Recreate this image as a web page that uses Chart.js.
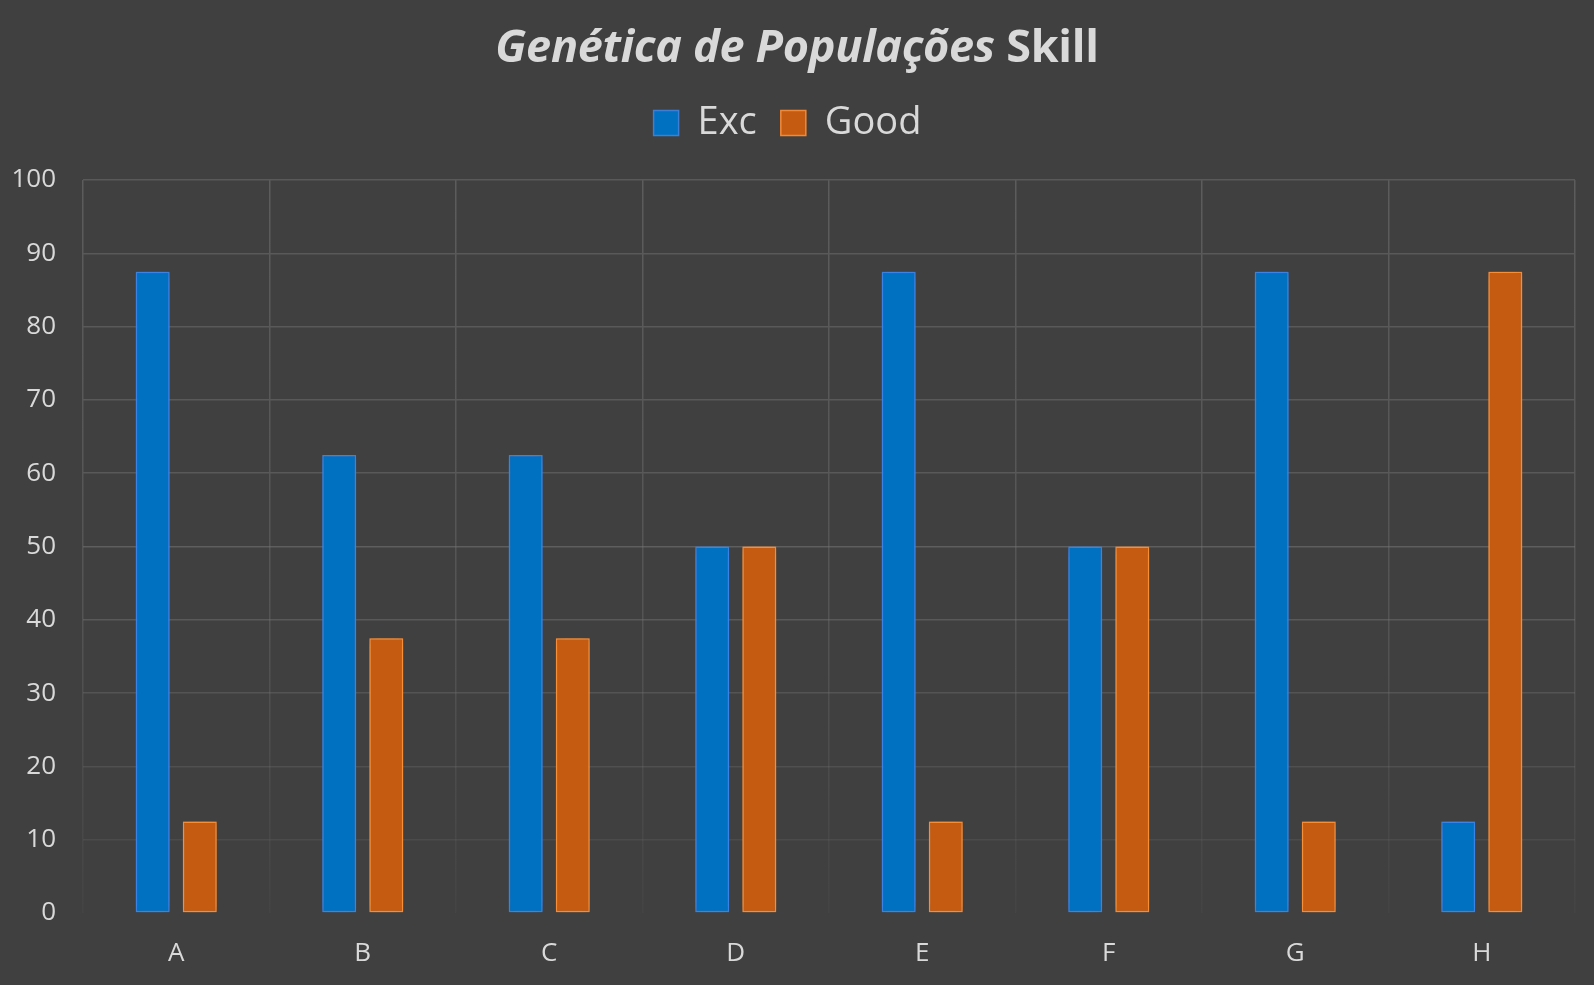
<!DOCTYPE html>
<html>
<head>
<meta charset="utf-8">
<script src="https://cdn.jsdelivr.net/npm/chart.js@4/dist/chart.umd.min.js"></script>
<style>
  html, body { margin: 0; padding: 0; background: #404040; }
  #wrap { position: relative; width: 1594px; height: 985px; }
  #title {
    position: absolute; left: 0; top: 14px; width: 1594px; text-align: center;
    font-family: "Open Sans", Lato, sans-serif; font-weight: bold; font-size: 45px;
    color: #d9d9d9; letter-spacing: -0.3px;
  }
  canvas { position: absolute; left: 0; top: 0; }
</style>
</head>
<body>
<div id="wrap">
  <canvas id="myChart" width="1594" height="985"></canvas>
  <div id="title"><i>Genética de Populações</i> Skill</div>
</div>
<script>
const labels = ['A', 'B', 'C', 'D', 'E', 'F', 'G', 'H'];
const excValues = [87.5, 62.5, 62.5, 50, 87.5, 50, 87.5, 12.5];
const goodValues = [12.5, 37.5, 37.5, 50, 12.5, 50, 12.5, 87.5];

const ctx = document.getElementById('myChart').getContext('2d');
const font = '"Open Sans", Lato, sans-serif';

// soft glow around the bars
const glowPlugin = {
  id: 'glow',
  beforeDatasetDraw(chart, args) {
    const c = chart.ctx;
    c.save();
    c.shadowColor = args.index === 0 ? 'rgba(60,140,255,0.95)' : 'rgba(255,150,60,0.95)';
    c.shadowBlur = 12;
  },
  afterDatasetDraw(chart) {
    chart.ctx.restore();
  }
};

// extra room under the legend
const legendGap = {
  id: 'legendGap',
  beforeInit(chart) {
    const fit = chart.legend.fit;
    chart.legend.fit = function () {
      fit.bind(chart.legend)();
      this.height += 28;
    };
  }
};

function fadeGrid(context) {
  const chart = context.chart;
  const area = chart.chartArea;
  if (!area) return '#5a5a5a';
  const g = chart.ctx.createLinearGradient(0, area.top, 0, area.bottom);
  g.addColorStop(0, '#5c5c5c');
  g.addColorStop(0.6, '#545454');
  g.addColorStop(1, '#444444');
  return g;
}

new Chart(ctx, {
  type: 'bar',
  data: {
    labels: labels,
    datasets: [
      {
        label: 'Exc',
        data: excValues,
        backgroundColor: '#0070c0',
        borderColor: '#3b7fd6',
        borderWidth: 1.5,
        borderSkipped: false
      },
      {
        label: 'Good',
        data: goodValues,
        backgroundColor: '#c55a11',
        borderColor: '#f08a3a',
        borderWidth: 1.5,
        borderSkipped: false
      }
    ]
  },
  plugins: [glowPlugin, legendGap],
  options: {
    responsive: false,
    animation: false,
    categoryPercentage: 0.505,
    barPercentage: 0.72,
    layout: { padding: { top: 80, right: 19, left: 0, bottom: 0 } },
    plugins: {
      legend: {
        position: 'top',
        labels: {
          color: '#d9d9d9',
          font: { family: font, size: 38 },
          boxWidth: 25,
          boxHeight: 25,
          padding: 24
        },
        onClick: null
      },
      tooltip: { enabled: false }
    },
    scales: {
      x: {
        afterFit(scale) { scale.height = 72; },
        grid: { color: fadeGrid, drawTicks: false, lineWidth: 1.5 },
        border: { display: false },
        ticks: {
          color: '#d9d9d9',
          font: { family: font, size: 26 },
          padding: 25
        }
      },
      y: {
        afterFit(scale) { scale.width = 83; },
        min: 0,
        max: 100,
        ticks: {
          stepSize: 10,
          color: '#d9d9d9',
          font: { family: font, size: 26 },
          padding: 27
        },
        grid: {
          drawTicks: false,
          lineWidth: 1.5,
          color: (c) => {
            const v = c.tick ? c.tick.value : 100;
            if (v === 0) return 'rgba(0,0,0,0)';
            if (v >= 60) return '#595959';
            const a = 0.12 + 0.5 * (v / 60);
            return 'rgba(120,120,120,' + a.toFixed(2) + ')';
          }
        },
        border: { display: false }
      }
    }
  }
});
</script>
</body>
</html>
